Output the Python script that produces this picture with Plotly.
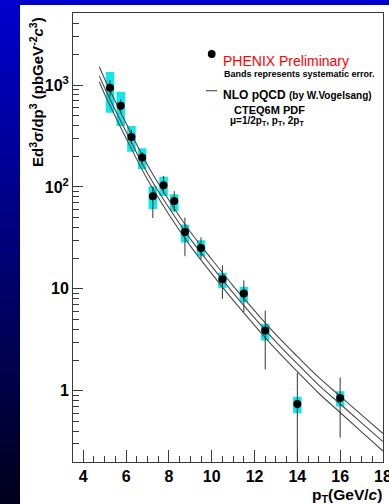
import plotly.graph_objects as go

# ---------------- data ----------------
pt = [5.25, 5.75, 6.25, 6.75, 7.25, 7.75, 8.25, 8.75, 9.5, 10.5, 11.5, 12.5, 14.0, 16.0]
xsec = [942, 627, 309, 194, 81, 104, 72.8, 36, 25.2, 12.4, 9.0, 3.9, 0.74, 0.85]
stat_hi = [1120, 724, 361, 221, 100, 128, 90.7, 50, 32, 17, 12.1, 6.1, 1.50, 1.35]
stat_lo = [768, 527, 263, 164, 49.5, 86.5, 57, 20.9, 19.5, 7.97, 5.9, 1.62, 0.01, 0.346]
sys_hi = [1342, 860, 396, 239, 101.6, 126, 84.7, 42.8, 30, 14.4, 10.5, 4.54, 0.873, 0.99]
sys_lo = [535, 396, 221, 149, 60.8, 81.5, 58, 28.4, 20.9, 10.1, 7.4, 3.11, 0.60, 0.70]

nlo_pt = [4.75, 5, 6, 7, 8, 9, 10, 11, 12, 13, 14, 15, 16, 17, 18]
nlo_half = [1514, 1148, 422, 164, 74.1, 36.3, 19.5, 10.7, 6.10, 3.55, 2.17, 1.35, 0.883, 0.579, 0.380]
nlo_one = [1230, 933, 347, 136, 62.4, 30.9, 16.6, 9.12, 5.19, 3.02, 1.84, 1.135, 0.741, 0.484, 0.316]
nlo_two = [1072, 813, 301, 118, 53.6, 26.4, 14.1, 7.73, 4.38, 2.54, 1.54, 0.944, 0.611, 0.395, 0.256]

x_tickvals = [4, 6, 8, 10, 12, 14, 16, 18]
y_tickvals = [1, 10, 100, 1000]
y_ticktext = ["1", "10", "10<sup>2</sup>", "10<sup>3</sup>"]
y_minor = [0.2, 0.3, 0.4, 0.5, 0.6, 0.7, 0.8, 0.9,
           2, 3, 4, 5, 6, 7, 8, 9,
           20, 30, 40, 50, 60, 70, 80, 90,
           200, 300, 400, 500, 600, 700, 800, 900,
           2000, 3000, 4000, 5000]

# ---------------- geometry helpers ----------------
W, H = 389, 504
def fx(px):
    return px / W
def fy(py):
    return 1 - py / H

FONT = "Liberation Sans"
fig = go.Figure()

# systematic bands
fig.add_trace(go.Bar(
    x=pt,
    y=[h - l for h, l in zip(sys_hi, sys_lo)],
    base=sys_lo,
    width=0.4,
    marker=dict(color="#12E6E8", line=dict(width=0)),
    hoverinfo="skip",
    showlegend=False,
))

# NLO curves
for curve in (nlo_half, nlo_one, nlo_two):
    fig.add_trace(go.Scatter(
        x=nlo_pt, y=curve, mode="lines", line_shape="spline",
        line=dict(color="#4a4a4a", width=1.1),
        hoverinfo="skip", showlegend=False,
    ))

# data points with stat errors
fig.add_trace(go.Scatter(
    x=pt, y=xsec, mode="markers",
    marker=dict(color="black", size=8),
    error_y=dict(type="data", symmetric=False,
                 array=[h - y for h, y in zip(stat_hi, xsec)],
                 arrayminus=[y - l for y, l in zip(xsec, stat_lo)],
                 color="#333333", thickness=1, width=0),
    showlegend=False,
))

# ---------------- background shapes ----------------
shapes = []
N = 42
for i in range(N):
    t = i / (N - 1)
    b = int(round(205 - 175 * t))
    shapes.append(dict(type="rect", xref="paper", yref="paper",
                       x0=fx(0), x1=fx(20), y0=fy(i * H / N), y1=fy((i + 1) * H / N + 0.5),
                       fillcolor=f"rgb(0,0,{b})", line=dict(width=0), layer="below"))
shapes.append(dict(type="rect", xref="paper", yref="paper",
                   x0=fx(19.5), x1=fx(W), y0=fy(0), y1=fy(5),
                   fillcolor="rgb(0,0,205)", line=dict(width=0), layer="below"))
shapes.append(dict(type="rect", xref="paper", yref="paper",
                   x0=fx(20), x1=fx(W), y0=fy(5), y1=fy(H),
                   fillcolor="white", line=dict(width=0), layer="below"))
# legend symbols
shapes.append(dict(type="circle", xref="paper", yref="paper",
                   x0=fx(207.8), x1=fx(215.6), y0=fy(50.1), y1=fy(57.9),
                   fillcolor="black", line=dict(width=0)))
shapes.append(dict(type="line", xref="paper", yref="paper",
                   x0=fx(206), x1=fx(217), y0=fy(90.7), y1=fy(90.7),
                   line=dict(color="#4a4a4a", width=1.1)))

annotations = [
    dict(text="Ed<sup>3</sup>σ/dp<sup>3</sup> (pbGeV<sup>-2</sup><i>c</i><sup>3</sup>)",
         textangle=-90, xref="paper", yref="paper", x=fx(36), y=fy(92),
         xanchor="center", yanchor="middle", showarrow=False,
         font=dict(family=FONT, size=15, color="black", weight="bold")),
    dict(text="p<sub>T</sub>(GeV/<i>c</i>)", xref="paper", yref="paper",
         x=fx(384), y=fy(495), xanchor="right", yanchor="middle", showarrow=False,
         font=dict(family=FONT, size=15.5, color="black", weight="bold")),
    dict(text="PHENIX Preliminary", xref="paper", yref="paper",
         x=fx(221), y=fy(61), xanchor="left", yanchor="middle", showarrow=False,
         font=dict(family=FONT, size=14, color="#FF0000")),
    dict(text="Bands represents systematic error.", xref="paper", yref="paper",
         x=fx(222), y=fy(73.5), xanchor="left", yanchor="middle", showarrow=False,
         font=dict(family=FONT, size=9, color="black", weight="bold")),
    dict(text="NLO pQCD <span style='font-size:10px'>(by W.Vogelsang)</span>",
         xref="paper", yref="paper",
         x=fx(221), y=fy(95), xanchor="left", yanchor="middle", showarrow=False,
         font=dict(family=FONT, size=12, color="black", weight="bold")),
    dict(text="CTEQ6M PDF", xref="paper", yref="paper",
         x=fx(232), y=fy(110), xanchor="left", yanchor="middle", showarrow=False,
         font=dict(family=FONT, size=11, color="black", weight="bold")),
    dict(text="μ=1/2p<sub>T</sub>, p<sub>T</sub>, 2p<sub>T</sub>", xref="paper", yref="paper",
         x=fx(228), y=fy(121), xanchor="left", yanchor="middle", showarrow=False,
         font=dict(family=FONT, size=10, color="black", weight="bold")),
]

axis_line = "#3a3a3a"
fig.update_layout(
    width=W, height=H,
    margin=dict(l=0, r=0, t=0, b=0, autoexpand=False),
    paper_bgcolor="rgb(0,0,120)",
    plot_bgcolor="white",
    barmode="overlay",
    shapes=shapes,
    annotations=annotations,
    xaxis=dict(domain=[fx(73), fx(383)], range=[3.52, 18.002],
               automargin=False,
               showgrid=False, zeroline=False,
               showline=True, linecolor=axis_line, linewidth=1, mirror=True,
               ticks="inside", ticklen=12, tickcolor=axis_line, tickwidth=1,
               tickmode="array", tickvals=x_tickvals,
               ticklabeloverflow="allow",
               minor=dict(ticks="inside", ticklen=6, dtick=0.5, tick0=4,
                          tickcolor=axis_line, showgrid=False),
               tickfont=dict(family=FONT, size=16, color="black", weight="bold")),
    yaxis=dict(domain=[fy(461.7), fy(13)], type="log", range=[-0.697, 3.707],
               automargin=False,
               showgrid=False, zeroline=False,
               showline=True, linecolor=axis_line, linewidth=1, mirror=True,
               ticks="inside", ticklen=10, tickcolor=axis_line, tickwidth=1,
               tickmode="array", tickvals=y_tickvals, ticktext=y_ticktext,
               minor=dict(ticks="inside", ticklen=6, tickmode="array", tickvals=y_minor,
                          tickcolor=axis_line, showgrid=False),
               tickfont=dict(family=FONT, size=16, color="black", weight="bold")),
)

fig.write_html("out.html")
